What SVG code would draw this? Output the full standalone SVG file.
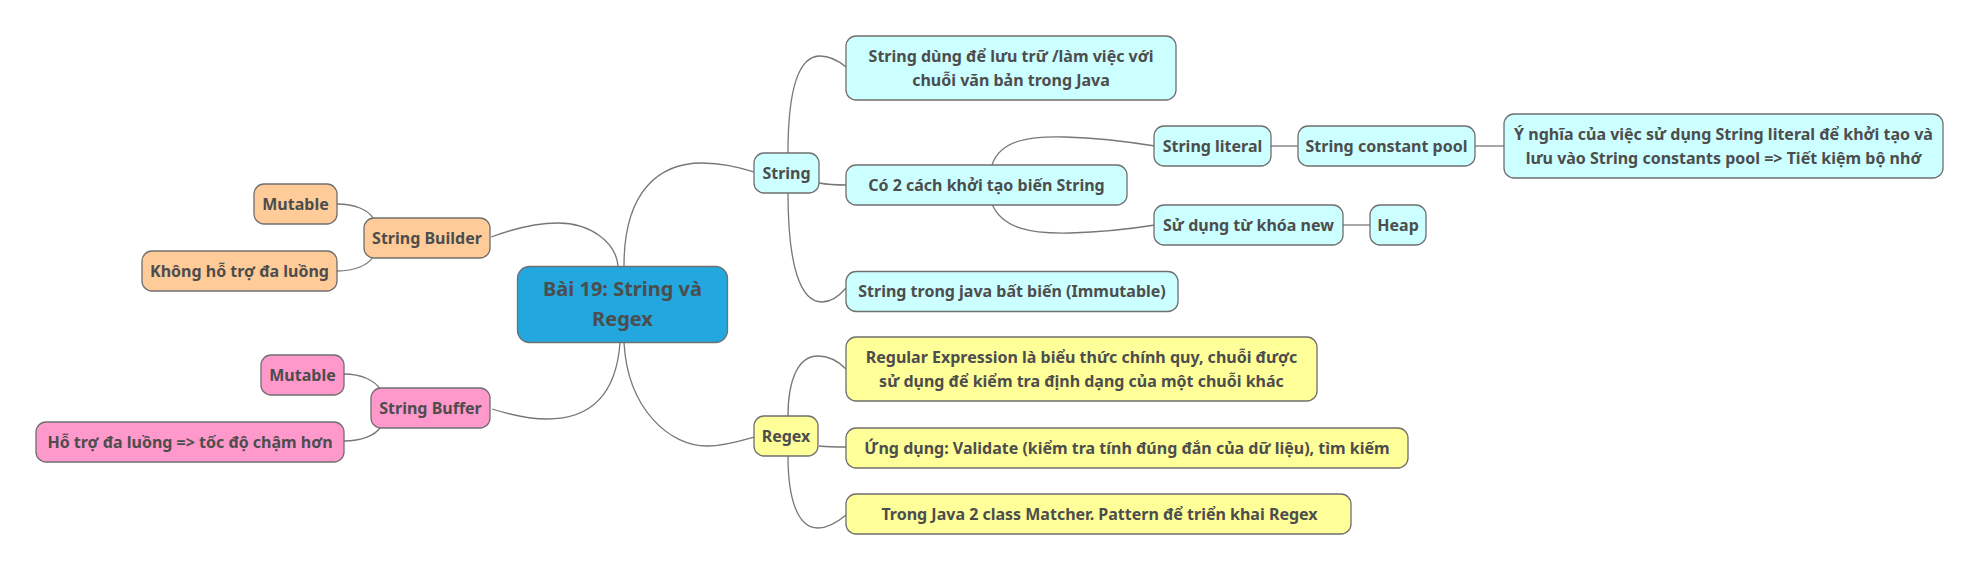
<svg xmlns="http://www.w3.org/2000/svg" width="1981" height="572" viewBox="0 0 1981 572">
<style>
.n rect{stroke:#6f6f6f;stroke-width:1.3}
.n text{font-family:"Noto Sans","Open Sans","DejaVu Sans",sans-serif;font-weight:bold;font-size:16px;fill:#4d4d4d;text-anchor:middle}
.root text{font-size:20px}
.cy rect{fill:#ccffff}
.ye rect{fill:#ffff99}
.or rect{fill:#ffcc99}
.pk rect{fill:#ff99cc}
#connectors path{fill:none;stroke:#777777;stroke-width:1.3}
</style>
<rect width="1981" height="572" fill="#ffffff"/>
<g id="connectors">
<path d="M624,266 C624,190 660,163 702,163 C725,163 740,168 754,172"/>
<path d="M618,266 C616,242 590,223 558,223 C535,223 510,230 491,237"/>
<path d="M620,343 C616,395 590,419 547,419 C525,419 505,413 492,409"/>
<path d="M624,343 C628,410 670,446 707,446 C725,446 740,441 754,437"/>
<path d="M788,153 C788,85 800,56 820,56 C832,56 840,62 846,67"/>
<path d="M819,183 C830,185 836,185 846,185"/>
<path d="M788,193 C788,265 800,302 822,302 C832,302 840,295 846,288"/>
<path d="M788,416 C788,380 798,356 818,356 C830,356 840,363 846,369"/>
<path d="M819,446 C830,447 836,447 846,447"/>
<path d="M788,456 C788,500 798,528 818,528 C830,528 840,520 846,515"/>
<path d="M992,165 C1000,140 1030,136 1065,137 C1100,138 1130,142 1155,146"/>
<path d="M992,204 C1002,228 1030,234 1070,233 C1105,232 1130,229 1155,225"/>
<path d="M1271,146 L1298,146"/>
<path d="M1475,146 L1504,146"/>
<path d="M1343,225 L1370,225"/>
<path d="M337,204 C355,204 368,210 373,218"/>
<path d="M337,271 C355,271 368,265 373,257"/>
<path d="M344,374 C362,374 375,381 380,389"/>
<path d="M344,441 C362,441 375,435 380,428"/>
</g>
<g id="root" class="n root"><rect x="517.5" y="266.5" width="210" height="76" rx="12" fill="#22a7de"/><text x="622.5" y="296">Bài 19: String và</text><text x="622.5" y="326">Regex</text></g>
<g id="string" class="n cy"><rect x="754" y="153" width="65" height="40" rx="10"/><text x="786.5" y="178.5">String</text></g>
<g id="s1" class="n cy"><rect x="846" y="36" width="330" height="64" rx="10"/><text x="1011" y="61.5">String dùng để lưu trữ /làm việc với</text><text x="1011" y="85.5">chuỗi văn bản trong Java</text></g>
<g id="s2" class="n cy"><rect x="846" y="165" width="281" height="40" rx="10"/><text x="986.5" y="190.5">Có 2 cách khởi tạo biến String</text></g>
<g id="literal" class="n cy"><rect x="1154" y="126" width="117" height="40" rx="10"/><text x="1212.5" y="151.5">String literal</text></g>
<g id="pool" class="n cy"><rect x="1298" y="126" width="177" height="40" rx="10"/><text x="1386.5" y="151.5">String constant pool</text></g>
<g id="ynghia" class="n cy"><rect x="1504" y="114" width="439" height="64" rx="10"/><text x="1723.5" y="139.5">Ý nghĩa của việc sử dụng String literal để khởi tạo và</text><text x="1723.5" y="163.5">lưu vào String constants pool =&gt; Tiết kiệm bộ nhớ</text></g>
<g id="newkw" class="n cy"><rect x="1154" y="205" width="189" height="40" rx="10"/><text x="1248.5" y="230.5">Sử dụng từ khóa new</text></g>
<g id="heap" class="n cy"><rect x="1370" y="205" width="56" height="40" rx="10"/><text x="1398" y="230.5">Heap</text></g>
<g id="s3" class="n cy"><rect x="846" y="271.5" width="332" height="40" rx="10"/><text x="1012" y="297">String trong java bất biến (Immutable)</text></g>
<g id="regex" class="n ye"><rect x="754" y="416" width="64" height="40" rx="10"/><text x="786" y="441.5">Regex</text></g>
<g id="r1" class="n ye"><rect x="846" y="337" width="471" height="64" rx="10"/><text x="1081.5" y="362.5">Regular Expression là biểu thức chính quy, chuỗi được</text><text x="1081.5" y="386.5">sử dụng để kiểm tra định dạng của một chuỗi khác</text></g>
<g id="r2" class="n ye"><rect x="846" y="428" width="562" height="40" rx="10"/><text x="1127" y="453.5">Ứng dụng: Validate (kiểm tra tính đúng đắn của dữ liệu), tìm kiếm</text></g>
<g id="r3" class="n ye"><rect x="846" y="494" width="505" height="40" rx="10"/><text x="1099.5" y="519.5">Trong Java 2 class Matcher. Pattern để triển khai Regex</text></g>
<g id="sbuilder" class="n or"><rect x="364" y="218" width="126" height="40" rx="10"/><text x="427" y="243.5">String Builder</text></g>
<g id="sb1" class="n or"><rect x="254" y="184" width="83" height="40" rx="10"/><text x="295.5" y="209.5">Mutable</text></g>
<g id="sb2" class="n or"><rect x="142" y="251" width="195" height="40" rx="10"/><text x="239.5" y="276.5">Không hỗ trợ đa luồng</text></g>
<g id="sbuffer" class="n pk"><rect x="371" y="388" width="119" height="40" rx="10"/><text x="430.5" y="413.5">String Buffer</text></g>
<g id="sf1" class="n pk"><rect x="261" y="355" width="83" height="40" rx="10"/><text x="302.5" y="380.5">Mutable</text></g>
<g id="sf2" class="n pk"><rect x="36" y="422" width="308" height="40" rx="10"/><text x="190" y="447.5">Hỗ trợ đa luồng =&gt; tốc độ chậm hơn</text></g>
</svg>
